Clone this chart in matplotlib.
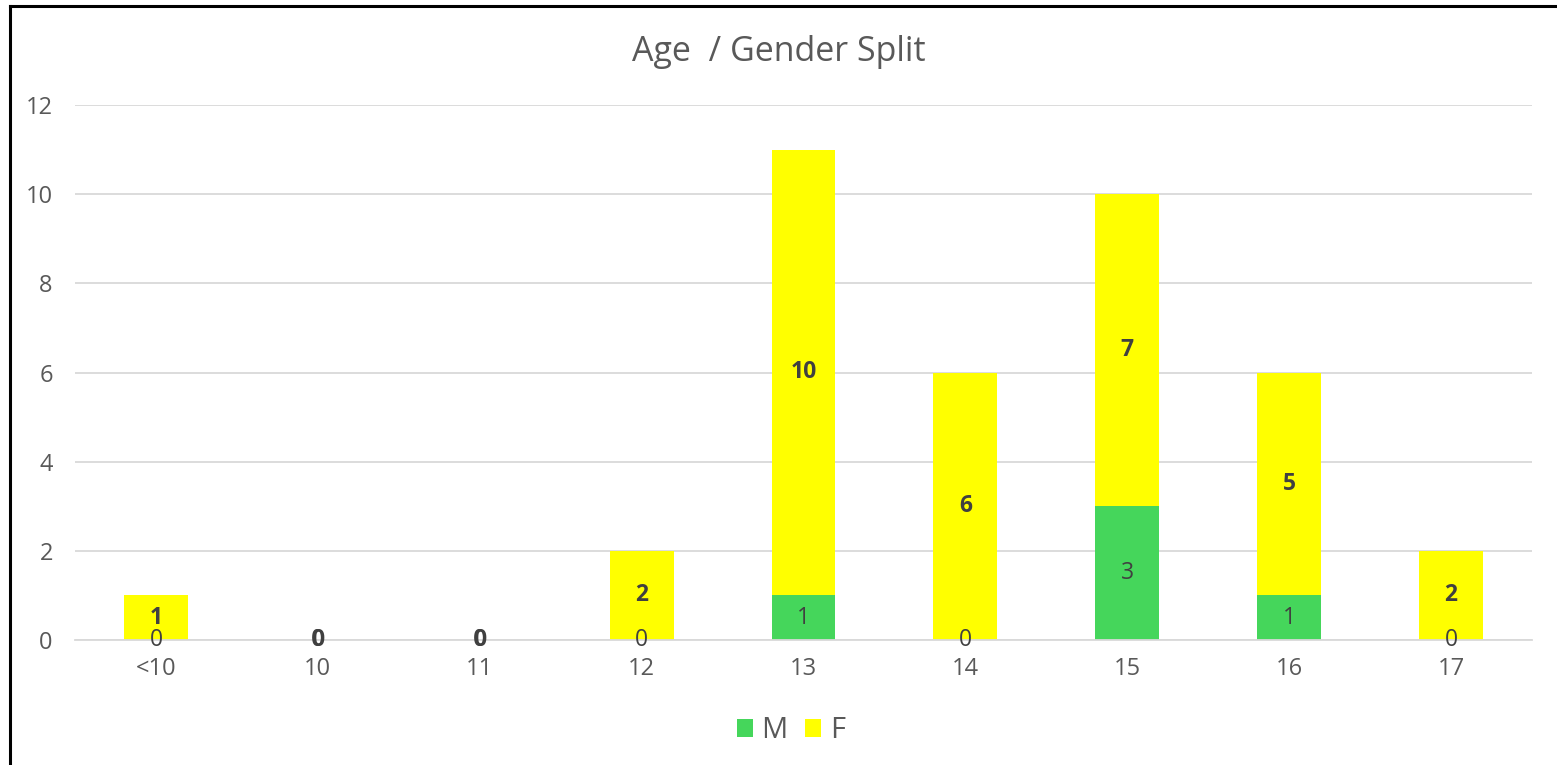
import matplotlib.pyplot as plt
from matplotlib.lines import Line2D
from matplotlib.patches import Patch

ages = ["<10", "10", "11", "12", "13", "14", "15", "16", "17"]
male = [0, 0, 0, 0, 1, 0, 3, 1, 0]
female = [1, 0, 0, 2, 10, 6, 7, 5, 2]

green = "#45D65B"
yellow = "#FFFF00"
grid_col = "#D9D9D9"
tick_col = "#595959"
lab_col = "#404040"

plt.rcParams['font.family'] = ['Open Sans', 'DejaVu Sans']

fig = plt.figure(figsize=(15.57, 7.65), dpi=100)
ax = fig.add_axes([75 / 1557, 1 - 640 / 765, (1532 - 75) / 1557, (640 - 105) / 765])

x = list(range(len(ages)))
w = 0.395
bm = ax.bar(x, male, w, color=green, zorder=2)
bf = ax.bar(x, female, w, bottom=male, color=yellow, zorder=2)

# data labels: M normal, F bold (centred in each segment)
for i in x:
    ax.text(i, male[i] / 2, str(male[i]), ha="center", va="center",
            fontsize=16.5, color=lab_col, zorder=3)
    ax.text(i, male[i] + female[i] / 2, str(female[i]), ha="center", va="center",
            fontsize=16.5, color=lab_col, fontweight="bold", zorder=4)

ax.set_xlim(-0.5, len(ages) - 0.5)
ax.set_ylim(0, 12)
ax.set_yticks(range(0, 13, 2))
ax.set_xticks(x)
ax.set_xticklabels(ages)
ax.yaxis.grid(True, color=grid_col, linewidth=1.3, zorder=0)
ax.set_axisbelow(True)
for s in ["top", "right", "left"]:
    ax.spines[s].set_visible(False)
ax.spines["bottom"].set_color(grid_col)
ax.spines["bottom"].set_linewidth(1.3)
ax.tick_params(axis="both", length=0, labelsize=17, labelcolor=tick_col)
ax.tick_params(axis="x", pad=12)
ax.tick_params(axis="y", pad=16)

fig.text(0.5, 1 - 52 / 765, "Age  / Gender Split", ha="center", va="center",
         fontsize=24.5, color=tick_col)

handles = [Patch(facecolor=green, edgecolor="none"), Patch(facecolor=yellow, edgecolor="none")]
fig.legend(handles, ["M", "F"], loc="center", bbox_to_anchor=(791 / 1557, 1 - 731 / 765),
           ncol=2, frameon=False, fontsize=21, labelcolor=tick_col,
           handlelength=0.55, handleheight=0.55, handletextpad=0.3, columnspacing=0.6)

# chart border (left and top visible)
fig.add_artist(Line2D([10 / 1557, 10 / 1557], [0, 1 - 6 / 765], color="black", linewidth=2.2))
fig.add_artist(Line2D([10 / 1557, 1], [1 - 6 / 765, 1 - 6 / 765], color="black", linewidth=2.2))

fig.savefig("out.png", dpi=100)
